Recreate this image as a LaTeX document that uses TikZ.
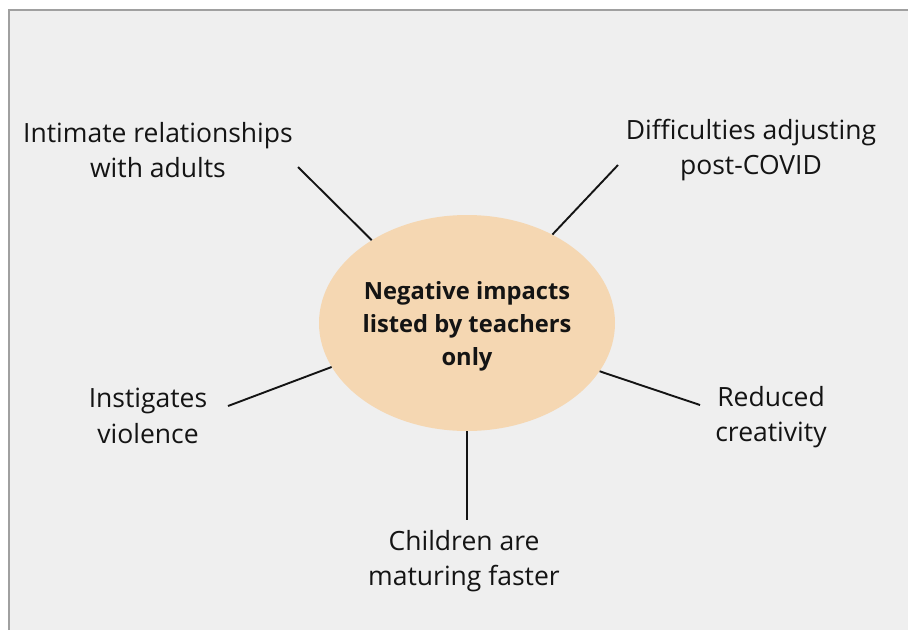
\documentclass[tikz,border=0pt]{standalone}
\usepackage{fontspec}
\setmainfont{Open Sans}
\usetikzlibrary{positioning, shapes.geometric}
\definecolor{bggray}{RGB}{239,239,239}
\definecolor{framegray}{RGB}{160,160,160}
\definecolor{peach}{RGB}{245,215,178}
\definecolor{inkblack}{RGB}{20,20,20}

\begin{document}
\begin{tikzpicture}[x=1pt, y=-1pt,
    leaf/.style={align=center, text=inkblack, inner sep=2pt,
                 font=\fontsize{26.5}{35.5}\selectfont},
    spoke/.style={draw=inkblack, line width=1.9pt}]
    \useasboundingbox (0,0) rectangle (908,630);

    % panel with a thin frame on top and left only
    \fill[bggray] (9,10) rectangle (908,630);
    \draw[framegray, line width=1.2pt] (9,630) -- (9,10) -- (908,10);

    % hub
    \node[ellipse, fill=peach, minimum width=296pt, minimum height=216pt, inner sep=0pt] (hub) at (467,323) {};
    \node[align=center, text=inkblack, font=\fontsize{23.7}{33}\selectfont\bfseries,
          yshift=-3.5pt] (hub-text) at (hub.center)
          {Negative impacts\\listed by teachers\\only};

    % outer labels
    \node[leaf] (intimate) at (158,150) {Intimate relationships\\with adults};
    \node[leaf] (covid) at (751,150) {Difficulties adjusting\\post-COVID};
    \node[leaf] (violence) at (148,416) {Instigates\\violence};
    \node[leaf] (creative) at (771,417) {Reduced\\creativity};
    \node[leaf] (mature) at (464,561) {Children are\\maturing faster};

    % free ends of the spokes
    \coordinate (intimate-end) at (298,167);
    \coordinate (covid-end) at (618,165);
    \coordinate (violence-end) at (228,406);
    \coordinate (creative-end) at (700,405);
    \coordinate (mature-end) at (467,520);

    \draw[spoke] (hub.139.5) -- (intimate-end);
    \draw[spoke] (hub.46.7) -- (covid-end);
    \draw[spoke] (hub.198.7) -- (violence-end);
    \draw[spoke] (hub.340.5) -- (creative-end);
    \draw[spoke] (hub.270) -- (mature-end);
\end{tikzpicture}
\end{document}
